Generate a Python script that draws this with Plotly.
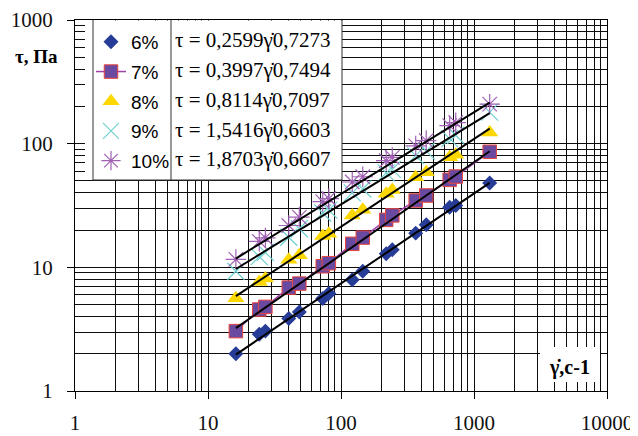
import plotly.graph_objects as go

# ---------------- data ----------------
shear_rate = [16.2, 24.3, 27, 40.5, 48.6, 72.9, 81, 121.5, 145.8, 218.7, 243,
              364.5, 437.4, 656.1, 729, 1312]
tau_6 = [2.0, 2.88, 3.05, 3.86, 4.36, 5.6, 6.14, 7.95, 9.3, 12.9, 13.9, 18.9, 22.1, 30.6, 31.6, 48]
tau_7 = [3.05, 4.56, 4.79, 6.86, 7.39, 10.2, 10.8, 15.5, 17.4, 24.2, 26.3, 34.7, 38.1, 51, 54.2, 86]
tau_8 = [5.62, 7.62, 8.11, 11.5, 12.5, 17.9, 18.7, 26.3, 29.2, 39.3, 42.3, 53.5, 58.7, 77.6, 81.5, 123]
tau_9 = [9.3, 12.2, 13.2, 17.5, 20.5, 27.5, 29.0, 40, 43, 58, 62, 80, 87, 110, 117, 180]
tau_10 = [11.6, 16.2, 17.3, 21.8, 25.5, 34, 36, 49, 54, 73, 77.5, 96, 106, 140, 148, 209]

series_names = ["6%", "7%", "8%", "9%", "10%"]
fit_a = [0.2599, 0.3997, 0.8114, 1.5416, 1.8703]
fit_b = [0.7273, 0.7494, 0.7097, 0.6603, 0.6607]

x_tick_vals = [1, 10, 100, 1000, 10000]
y_tick_vals = [1, 10, 100, 1000]

# ---------------- styles ----------------
series_values = [tau_6, tau_7, tau_8, tau_9, tau_10]
styles = [
    dict(mode="markers", marker=dict(symbol="diamond", size=11.5, color="#263c96")),
    dict(mode="lines+markers", line=dict(color="#a040a8", width=1.5),
         marker=dict(symbol="square", size=13.5, color="#6a4aa0",
                     line=dict(color="#e8453c", width=1))),
    dict(mode="markers", marker=dict(symbol="triangle-up", size=15, color="#fcd700")),
    dict(mode="markers", marker=dict(symbol="x-thin", size=17, color="#70d0d0",
                                     line=dict(color="#70d0d0", width=1.2))),
    dict(mode="markers", marker=dict(symbol="asterisk-open", size=17, color="#a060b4",
                                     line=dict(color="#a060b4", width=1.2))),
]

fig = go.Figure()
for i, (name, vals, st) in enumerate(zip(series_names, series_values, styles)):
    fig.add_trace(go.Scatter(x=shear_rate, y=vals, name=name, legendgroup=f"g{i}",
                             showlegend=True, **st))

# power-law trend lines
xmin, xmax = min(shear_rate), max(shear_rate)
for a, b in zip(fit_a, fit_b):
    xs = [xmin, xmax]
    fig.add_trace(go.Scatter(x=xs, y=[a * v ** b for v in xs], mode="lines",
                             line=dict(color="black", width=2), showlegend=False,
                             hoverinfo="skip"))

# ---------------- layout ----------------
# page body has an 8px margin, so the figure is drawn 8px in from the window corner
OFF = 8
W, H = 638 - OFF, 436 - OFF
L, R, T, B = 75 - OFF, 31, 20 - OFF, 45
pw, ph = W - L - R, H - T - B

# helpers converting window pixels to paper fractions
def px_x(p):
    return (p - OFF - L) / pw

def px_y(p):
    return (H - B - (p - OFF)) / ph

grid_col = "#0d0d0d"
axis_common = dict(
    type="log", showline=True, linecolor="black", linewidth=1.3, mirror=True,
    showgrid=True, gridcolor=grid_col, gridwidth=1.3, automargin=False,
    ticks="outside", ticklen=7, tickcolor="black", tickwidth=1.2,
    tickfont=dict(family="Liberation Serif", size=21, color="#111"),
    minor=dict(showgrid=True, gridcolor=grid_col, gridwidth=1.3, dtick="D1", ticks=""),
    zeroline=False,
)

fig.update_layout(
    width=W, height=H,
    margin=dict(l=L, r=R, t=T, b=B, autoexpand=False),
    paper_bgcolor="white", plot_bgcolor="white",
    xaxis=dict(range=[0, 4], tickvals=x_tick_vals, ticktext=[str(v) for v in x_tick_vals],
               ticklabelstandoff=6, **axis_common),
    yaxis=dict(range=[0, 3], tickvals=y_tick_vals, ticktext=[str(v) for v in y_tick_vals],
               ticklabelstandoff=10, **axis_common),
    legend=dict(x=px_x(91), y=px_y(23), xanchor="left", yanchor="top",
                bgcolor="rgba(0,0,0,0)", borderwidth=0, tracegroupgap=2,
                font=dict(family="Liberation Sans", size=19, color="black"),
                itemwidth=30),
    showlegend=True,
)

# white legend / equation panel hiding the grid
fig.add_shape(type="rect", xref="paper", yref="paper", layer="above",
              x0=px_x(85), x1=px_x(342), y0=px_y(180), y1=px_y(20.5),
              fillcolor="white", line=dict(width=0))
for xv in (93, 171, 342):
    fig.add_shape(type="line", xref="paper", yref="paper", layer="above",
                  x0=px_x(xv), x1=px_x(xv), y0=px_y(180), y1=1,
                  line=dict(color="#333", width=1))
fig.add_shape(type="line", xref="paper", yref="paper", layer="above",
              x0=px_x(93), x1=px_x(342), y0=px_y(180), y1=px_y(180),
              line=dict(color="#333", width=1))

# equations
row_y = [40, 70, 100, 130, 159]
for a, b, ry in zip(fit_a, fit_b, row_y):
    txt = "τ = " + f"{a:.4f}".replace(".", ",") + "γ̇" + f"{b:.4f}".replace(".", ",")
    fig.add_annotation(xref="paper", yref="paper", x=px_x(173), y=px_y(ry),
                       xanchor="left", yanchor="middle", showarrow=False, text=txt,
                       font=dict(family="Liberation Serif", size=21, color="black"))

# axis titles
fig.add_annotation(xref="paper", yref="paper", x=px_x(36), y=px_y(57),
                   xanchor="center", yanchor="middle", showarrow=False,
                   text="<b>τ, Па</b>",
                   font=dict(family="Liberation Serif", size=19, color="black"))
fig.add_shape(type="rect", xref="paper", yref="paper", layer="above",
              x0=px_x(540), x1=px_x(600), y0=px_y(382), y1=px_y(347),
              fillcolor="white", line=dict(width=0))
fig.add_annotation(xref="paper", yref="paper", x=px_x(569), y=px_y(367),
                   xanchor="center", yanchor="middle", showarrow=False,
                   text="<b>γ̇,с-1</b>",
                   font=dict(family="Liberation Serif", size=20, color="black"))

fig.write_html("out.html")
